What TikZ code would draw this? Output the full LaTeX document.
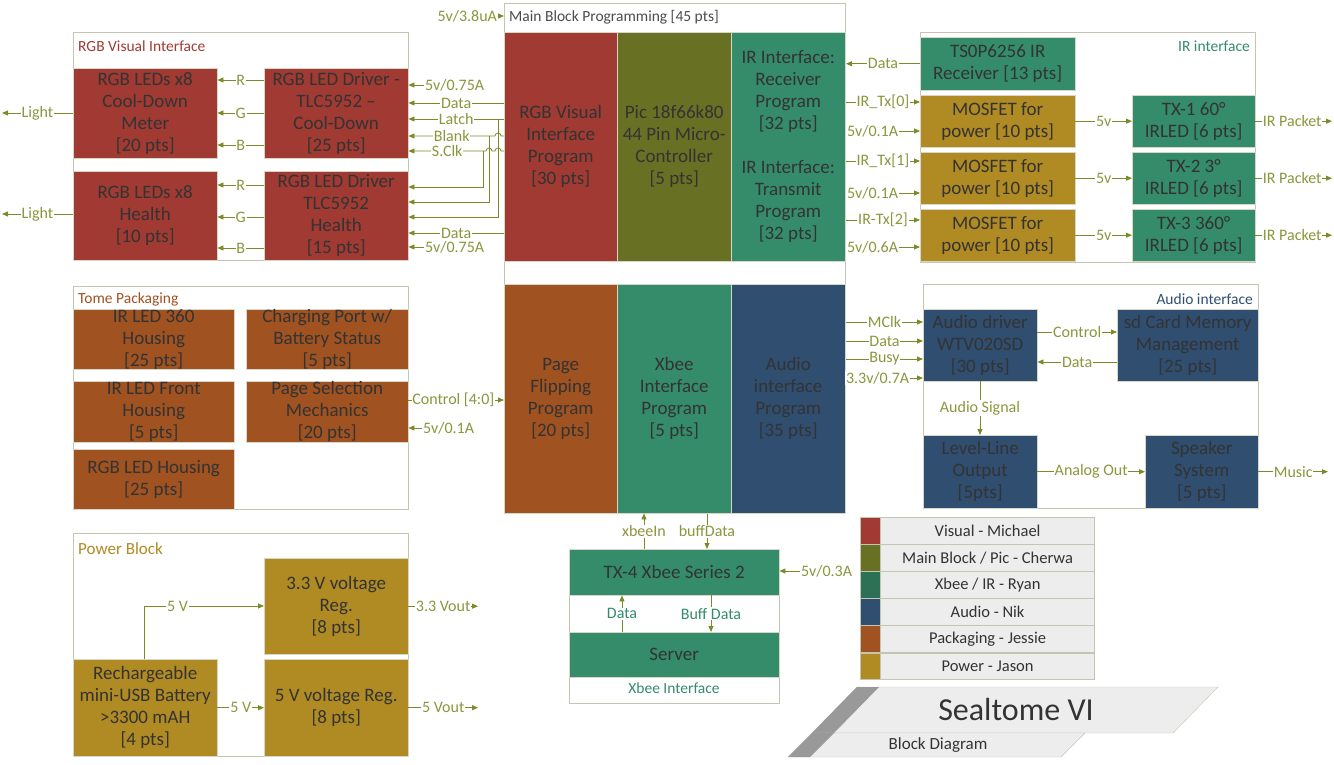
\documentclass[tikz,border=0pt]{standalone}
\usepackage{fontspec}
\setmainfont{Carlito}
\usetikzlibrary{arrows.meta,positioning,calc}
\definecolor{vRed}{RGB}{160,58,50}
\definecolor{vOlive}{RGB}{104,112,36}
\definecolor{vTeal}{RGB}{52,140,106}
\definecolor{vTealD}{RGB}{44,112,86}
\definecolor{vNavy}{RGB}{48,78,112}
\definecolor{vBrown}{RGB}{160,82,32}
\definecolor{vGold}{RGB}{176,138,34}
\definecolor{wireC}{RGB}{122,140,40}
\definecolor{wireTxt}{RGB}{140,150,60}
\definecolor{grpLine}{RGB}{196,198,178}
\definecolor{blkLine}{RGB}{215,215,200}

\begin{document}
\begin{tikzpicture}[x=1pt, y=-1pt,
  sz/.style 2 args={minimum width=#1pt, minimum height=#2pt},
  grp/.style={draw=grpLine, line width=1pt, fill=white, anchor=north west, inner sep=0pt},
  blk/.style={draw=blkLine, anchor=north west, align=center, inner sep=1pt,
    font=\fontsize{19}{22}\selectfont, text=black!80},
  gtitle/.style={font=\fontsize{15.5}{17}\selectfont, anchor=west, inner sep=0pt},
  sig/.style={draw=wireC, line width=0.8pt, -{Triangle[length=6pt,width=5pt]}},
  lbl/.style={font=\fontsize{16}{17}\selectfont, text=wireTxt, fill=white, inner sep=0.8pt},
  keybox/.style={draw=grpLine, anchor=north west, sz={20}{26.7}, inner sep=0pt},
  keytxt/.style={draw=grpLine, fill=black!7, sz={214}{26.7}, inner sep=0pt,
    font=\fontsize{16.5}{18}\selectfont, text=black!80},
  ]
\useasboundingbox (0,0) rectangle (1334,765);

\node[grp, sz={335}{228}] (rgbgrp) at (73,32) {};
\node[gtitle, text=vRed] (rgbttl) at (78,46) {RGB Visual Interface};
\node[blk, fill=vRed, sz={144}{90}] (led1) at (73,68) {RGB LEDs x8\\Cool-Down\\Meter\\{[20 pts]}};
\node[blk, fill=vRed, sz={144}{90}] (drv1) at (264,68) {RGB LED Driver -\\TLC5952 --\\Cool-Down\\{[25 pts]}};
\node[blk, fill=vRed, sz={144}{89}] (led2) at (73,171) {RGB LEDs x8\\Health\\{[10 pts]}};
\node[blk, fill=vRed, sz={144}{89}] (drv2) at (264,171) {RGB LED Driver\\TLC5952\\Health\\{[15 pts]}};

\node[grp, sz={341}{510}] (main) at (504,3) {};
\node[gtitle, text=black!70] (mainttl) at (509,17) {Main Block Programming [45 pts]};
\node[blk, fill=vRed, sz={113}{229}] (rgbprog) at (504,32) {RGB Visual\\Interface\\Program\\{[30 pts]}};
\node[blk, fill=vOlive, sz={114}{229}] (pic) at (617,32) {Pic 18f66k80\\44 Pin Micro-\\Controller\\{[5 pts]}};
\node[blk, fill=vTeal, sz={114}{229}] (irprog) at (731,32) {IR Interface:\\Receiver\\Program\\{[32 pts]}\\[22pt]IR Interface:\\Transmit\\Program\\{[32 pts]}};
\node[blk, fill=vBrown, sz={113}{229}] (pgprog) at (504,284) {Page\\Flipping\\Program\\{[20 pts]}};
\node[blk, fill=vTeal, sz={114}{229}] (xbprog) at (617,284) {Xbee\\Interface\\Program\\{[5 pts]}};
\node[blk, fill=vNavy, sz={114}{229}] (auprog) at (731,284) {Audio\\interface\\Program\\{[35 pts]}};

\node[lbl, anchor=east] (pmain) at (498,16) {5v/3.8uA};
\draw[sig] (pmain) -- (main.west |- pmain);

\foreach \c/\y in {R/80,G/113,B/145}
  \draw[sig] (drv1.west |- 0,\y) -- node[lbl]{\c} (led1.east |- 0,\y);
\foreach \c/\y in {R/185,G/217,B/248}
  \draw[sig] (drv2.west |- 0,\y) -- node[lbl]{\c} (led2.east |- 0,\y);
\coordinate (lt1) at (2,113);
\coordinate (lt2) at (2,214);
\draw[sig] (led1.west |- lt1) -- node[lbl]{Light} (lt1);
\draw[sig] (led2.west |- lt2) -- node[lbl]{Light} (lt2);

\node[lbl, anchor=west] (pdrv1) at (424,85) {5v/0.75A};
\draw[sig] (pdrv1) -- (drv1.east |- pdrv1);
\draw[sig] (main.west |- 0,103) -- node[lbl]{Data} (drv1.east |- 0,103);
\draw[sig] (main.west |- 0,119) -- node[lbl]{Latch} (drv1.east |- 0,119);
\draw[sig] (main.west |- 0,136) -- (501,136) arc[start angle=0, end angle=-180, radius=3]
  -- node[lbl]{Blank} (drv1.east |- 0,136);
\draw[sig] (main.west |- 0,151) -- (501,151) arc[start angle=0, end angle=-180, radius=3]
  -- (492,151) arc[start angle=0, end angle=-180, radius=3]
  -- node[lbl]{S.Clk} (drv1.east |- 0,151);
\coordinate (jlatch) at (498,119);
\coordinate (jblank) at (489,136);
\coordinate (jsclk) at (483,151);
\draw[sig] (jlatch) |- (drv2.east |- 0,217);
\draw[sig] (jblank) |- (drv2.east |- 0,202);
\draw[sig] (jsclk) |- (drv2.east |- 0,187);
\draw[sig] (main.west |- 0,233) -- node[lbl]{Data} (drv2.east |- 0,233);
\node[lbl, anchor=west] (pdrv2) at (424,247) {5v/0.75A};
\draw[sig] (pdrv2) -- (drv2.east |- pdrv2);

\node[grp, sz={335}{230}] (irgrp) at (920,32) {};
\node[gtitle, text=vTeal, anchor=east] (irttl) at (1250,46) {IR interface};
\node[blk, fill=vTeal, sz={155}{53}] (rcv) at (920,37) {TS0P6256 IR\\Receiver [13 pts]};
\foreach \i/\y in {1/95,2/152,3/209}
  \node[blk, fill=vGold, sz={155}{52}] (mos\i) at (920,\y) {MOSFET for\\power [10 pts]};
\node[blk, fill=vTeal, sz={123}{52}] (tx1) at (1132,95) {TX-1 60°\\IRLED [6 pts]};
\node[blk, fill=vTeal, sz={123}{52}] (tx2) at (1132,152) {TX-2 3°\\IRLED [6 pts]};
\node[blk, fill=vTeal, sz={123}{52}] (tx3) at (1132,209) {TX-3 360°\\IRLED [6 pts]};
\foreach \i in {1,2,3} {
  \coordinate (irout\i) at (tx\i.east -| 1332,0);
  \draw[sig] (mos\i) -- node[lbl]{5v} (tx\i);
  \draw[sig] (tx\i) -- node[lbl, pos=0.48]{IR Packet} (irout\i);
}
\draw[sig] (rcv.west) -- node[lbl]{Data} (main.east |- rcv.west);
\foreach \t/\y in {IR\_Tx[0]/102, IR\_Tx[1]/161, IR-Tx[2]/220}
  \draw[sig] (main.east |- 0,\y) -- node[lbl]{\t} (mos1.west |- 0,\y);
\node[lbl, anchor=west] (pmos1) at (846,131) {5v/0.1A};
\node[lbl, anchor=west] (pmos2) at (846,193) {5v/0.1A};
\node[lbl, anchor=west] (pmos3) at (846,247) {5v/0.6A};
\foreach \i in {1,2,3}
  \draw[sig] (pmos\i) -- (mos1.west |- pmos\i);

\node[grp, sz={335}{223}] (pkg) at (73,286) {};
\node[gtitle, text=vBrown] (pkgttl) at (78,299) {Tome Packaging};
\node[blk, fill=vBrown, sz={161}{60}, inner ysep=-3pt] (hs360) at (73,309) {IR LED 360\\Housing\\{[25 pts]}};
\node[blk, fill=vBrown, sz={162}{60}, inner ysep=-3pt] (chg) at (246,309) {Charging Port w/\\Battery Status\\{[5 pts]}};
\node[blk, fill=vBrown, sz={161}{61}, inner ysep=-3pt] (hsfront) at (73,381) {IR LED Front\\Housing\\{[5 pts]}};
\node[blk, fill=vBrown, sz={162}{61}, inner ysep=-3pt] (pgsel) at (246,381) {Page Selection\\Mechanics\\{[20 pts]}};
\node[blk, fill=vBrown, sz={161}{60}] (hsrgb) at (73,449) {RGB LED Housing\\{[25 pts]}};
\draw[sig] (pgsel.east |- 0,400) -- node[lbl, pos=0.47]{Control [4:0]} (main.west |- 0,400);
\node[lbl, anchor=west] (ppg) at (422,428) {5v/0.1A};
\draw[sig] (ppg) -- (pgsel.east |- ppg);

\node[grp, sz={335}{224}] (augrp) at (923,284) {};
\node[gtitle, text=vNavy, anchor=east] (auttl) at (1253,299) {Audio interface};
\node[blk, fill=vNavy, sz={114}{72}] (adrv) at (923,309) {Audio driver\\WTV020SD\\{[30 pts]}};
\node[blk, fill=vNavy, sz={141}{72}] (sdc) at (1117,309) {sd Card Memory\\Management\\{[25 pts]}};
\node[blk, fill=vNavy, sz={114}{73}] (lvl) at (923,435) {Level-Line\\Output\\{[5pts]}};
\node[blk, fill=vNavy, sz={113}{73}] (spk) at (1145,435) {Speaker\\System\\{[5 pts]}};
\draw[sig] (adrv.east |- 0,332) -- node[lbl]{Control} (sdc.west |- 0,332);
\draw[sig] (sdc.west |- 0,362) -- node[lbl]{Data} (adrv.east |- 0,362);
\draw[sig] (adrv.south -| 980,0) -- node[lbl]{Audio Signal} (lvl.north -| 980,0);
\draw[sig] (lvl) -- node[lbl]{Analog Out} (spk);
\coordinate (music) at (spk.east -| 1328,0);
\draw[sig] (spk) -- node[lbl]{Music} (music);
\foreach \t/\y in {MClk/322, Data/341, Busy/359}
  \draw[sig] (main.east |- 0,\y) -- node[lbl]{\t} (adrv.west |- 0,\y);
\node[lbl, anchor=west] (paud) at (845,378) {3.3v/0.7A};
\draw[sig] (paud) -- (adrv.west |- paud);

\node[grp, sz={210}{154}] (xbgrp) at (569,549) {};
\node[blk, fill=vTeal, sz={210}{46}] (tx4) at (569,549) {TX-4 Xbee Series 2};
\node[blk, fill=vTeal, sz={210}{45}] (srv) at (569,632) {Server};
\node[gtitle, text=vTeal, anchor=center] (xbttl) at (674,688) {Xbee Interface};
\draw[sig] (srv.north -| 622,0) -- node[lbl, text=vTeal]{Data} (tx4.south -| 622,0);
\draw[sig] (tx4.south -| 711,0) -- node[lbl, text=vTeal]{Buff Data} (srv.north -| 711,0);
\draw[sig] (tx4.north -| 644,0) -- node[lbl]{xbeeIn} (xbprog.south -| 644,0);
\draw[sig] (main.south -| 707,0) -- node[lbl]{buffData} (tx4.north -| 707,0);
\node[lbl, anchor=west] (pxb) at (800,571) {5v/0.3A};
\draw[sig] (pxb) -- (tx4.east |- pxb);

\node[grp, sz={335}{223}] (pwr) at (73,533) {};
\node[gtitle, text=vGold, font=\fontsize{17}{18}\selectfont] (pwrttl) at (78,549) {Power Block};
\node[blk, fill=vGold, sz={144}{96}] (reg33) at (264,558) {3.3 V voltage\\Reg.\\{[8 pts]}};
\node[blk, fill=vGold, sz={144}{97}] (bat) at (73,659) {Rechargeable\\mini-USB Battery\\>3300 mAH\\{[4 pts]}};
\node[blk, fill=vGold, sz={144}{97}] (reg5) at (264,659) {5 V voltage Reg.\\{[8 pts]}};
\draw[sig] (bat.north -| 144,0) |- node[lbl, pos=0.64]{5 V} (reg33.west |- 0,606);
\draw[sig] (bat) -- node[lbl]{5 V} (reg5);
\coordinate (out33) at (reg33.east -| 478,0);
\coordinate (out5) at (reg5.east -| 478,0);
\draw[sig] (reg33) -- node[lbl]{3.3 Vout} (out33);
\draw[sig] (reg5) -- node[lbl]{5 Vout} (out5);

\node[keybox, fill=vRed] (k1) at (860,517) {};
\node[keybox, fill=vOlive, below=0pt of k1] (k2) {};
\node[keybox, fill=vTealD, below=0pt of k2] (k3) {};
\node[keybox, fill=vNavy, below=0pt of k3] (k4) {};
\node[keybox, fill=vBrown, below=0pt of k4] (k5) {};
\node[keybox, fill=vGold, below=0pt of k5] (k6) {};
\node[keytxt, right=0pt of k1] (t1) {Visual - Michael};
\node[keytxt, right=0pt of k2] (t2) {Main Block / Pic - Cherwa};
\node[keytxt, right=0pt of k3] (t3) {Xbee / IR - Ryan};
\node[keytxt, right=0pt of k4] (t4) {Audio - Nik};
\node[keytxt, right=0pt of k5] (t5) {Packaging - Jessie};
\node[keytxt, right=0pt of k6] (t6) {Power - Jason};

\filldraw[fill=black!7, draw=grpLine] (857,687) -- (1218,687) -- (1173,733) -- (812,733) -- cycle;
\fill[black!40] (857,687) -- (879,687) -- (834,733) -- (812,733) -- cycle;
\filldraw[fill=black!7, draw=grpLine] (812,733) -- (1085,733) -- (1061,757) -- (788,757) -- cycle;
\fill[black!40] (812,733) -- (834,733) -- (810,757) -- (788,757) -- cycle;
\node[font=\fontsize{32}{34}\selectfont, text=black!80] (ttl) at (1016,710) {Sealtome VI};
\node[font=\fontsize{17}{18}\selectfont, text=black!80] (subttl) at (938,745) {Block Diagram};
\end{tikzpicture}
\end{document}
